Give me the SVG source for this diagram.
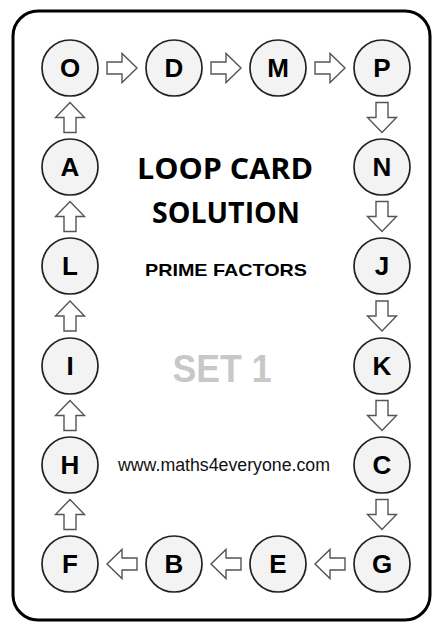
<svg xmlns="http://www.w3.org/2000/svg" xmlns:xlink="http://www.w3.org/1999/xlink" width="433" height="625" viewBox="0 0 433 625">
<style>
.card{fill:#fff;stroke:#000;stroke-width:3}
.nd circle{fill:#f3f3f3;stroke:#222;stroke-width:1.7}
.nd text{font-family:"Liberation Sans",Arial,sans-serif;font-weight:bold;font-size:26px;text-anchor:middle;fill:#000}
.arr{fill:#fff;stroke:#555;stroke-width:1.4;stroke-linejoin:miter}
.title{font-family:"Open Sans","Noto Sans",sans-serif;font-weight:bold;font-size:29px;text-anchor:middle;fill:#000}
.sub{font-family:"Liberation Sans",Arial,sans-serif;font-weight:bold;font-size:17px;text-anchor:middle;fill:#000}
.set{font-family:"Liberation Sans",Arial,sans-serif;font-weight:bold;font-size:38px;text-anchor:middle;fill:#c8c8c8}
.url{font-family:"Liberation Sans",Arial,sans-serif;font-size:18px;text-anchor:middle;fill:#111}
</style>
<defs>
<path id="ar" d="M-15,-6 H0 V-14.5 L15,0 L0,14.5 V6 H-15 Z"/>
</defs>
<rect class="card" x="13" y="11" width="417" height="609" rx="25" ry="25"/>
<text class="title" x="225" y="179" textLength="176" lengthAdjust="spacingAndGlyphs">LOOP CARD</text>
<text class="title" x="226" y="223" textLength="148" lengthAdjust="spacingAndGlyphs">SOLUTION</text>
<text class="sub" x="226" y="276" textLength="162" lengthAdjust="spacingAndGlyphs">PRIME FACTORS</text>
<text class="set" x="222" y="382" textLength="99" lengthAdjust="spacingAndGlyphs">SET 1</text>
<text class="url" x="224" y="471" textLength="212" lengthAdjust="spacingAndGlyphs">www.maths4everyone.com</text>
<g id="connectors" class="arr">
<use xlink:href="#ar" transform="translate(122,68)"/>
<use xlink:href="#ar" transform="translate(226,68)"/>
<use xlink:href="#ar" transform="translate(330,68)"/>
<use xlink:href="#ar" transform="translate(382,117.5) rotate(90)"/>
<use xlink:href="#ar" transform="translate(382,216.5) rotate(90)"/>
<use xlink:href="#ar" transform="translate(382,316) rotate(90)"/>
<use xlink:href="#ar" transform="translate(382,415.5) rotate(90)"/>
<use xlink:href="#ar" transform="translate(382,514.5) rotate(90)"/>
<use xlink:href="#ar" transform="translate(330,564) rotate(180)"/>
<use xlink:href="#ar" transform="translate(226,564) rotate(180)"/>
<use xlink:href="#ar" transform="translate(122,564) rotate(180)"/>
<use xlink:href="#ar" transform="translate(70,514.5) rotate(-90)"/>
<use xlink:href="#ar" transform="translate(70,415.5) rotate(-90)"/>
<use xlink:href="#ar" transform="translate(70,316) rotate(-90)"/>
<use xlink:href="#ar" transform="translate(70,216.5) rotate(-90)"/>
<use xlink:href="#ar" transform="translate(70,117.5) rotate(-90)"/>
</g>
<g id="node-O" class="nd"><circle cx="70" cy="68" r="28"/><text x="70" y="77">O</text></g>
<g id="node-D" class="nd"><circle cx="174" cy="68" r="28"/><text x="174" y="77">D</text></g>
<g id="node-M" class="nd"><circle cx="278" cy="68" r="28"/><text x="278" y="77">M</text></g>
<g id="node-P" class="nd"><circle cx="382" cy="68" r="28"/><text x="382" y="77">P</text></g>
<g id="node-N" class="nd"><circle cx="382" cy="167" r="28"/><text x="382" y="176">N</text></g>
<g id="node-J" class="nd"><circle cx="382" cy="266" r="28"/><text x="382" y="275">J</text></g>
<g id="node-K" class="nd"><circle cx="382" cy="366" r="28"/><text x="382" y="375">K</text></g>
<g id="node-C" class="nd"><circle cx="382" cy="465" r="28"/><text x="382" y="474">C</text></g>
<g id="node-G" class="nd"><circle cx="382" cy="564" r="28"/><text x="382" y="573">G</text></g>
<g id="node-E" class="nd"><circle cx="278" cy="564" r="28"/><text x="278" y="573">E</text></g>
<g id="node-B" class="nd"><circle cx="174" cy="564" r="28"/><text x="174" y="573">B</text></g>
<g id="node-F" class="nd"><circle cx="70" cy="564" r="28"/><text x="70" y="573">F</text></g>
<g id="node-H" class="nd"><circle cx="70" cy="465" r="28"/><text x="70" y="474">H</text></g>
<g id="node-I" class="nd"><circle cx="70" cy="366" r="28"/><text x="70" y="375">I</text></g>
<g id="node-L" class="nd"><circle cx="70" cy="266" r="28"/><text x="70" y="275">L</text></g>
<g id="node-A" class="nd"><circle cx="70" cy="167" r="28"/><text x="70" y="176">A</text></g>
</svg>
